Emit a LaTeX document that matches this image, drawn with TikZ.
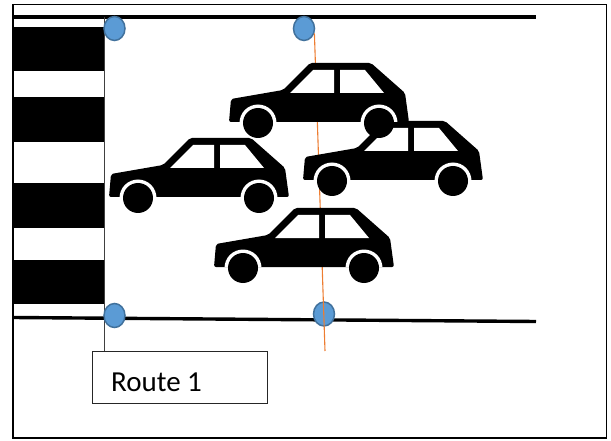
\documentclass[tikz,border=0pt]{standalone}
\usepackage{fontspec}
\setmainfont{Carlito}
\usetikzlibrary{shapes.geometric}

\definecolor{sensorfill}{HTML}{5B9BD5}
\definecolor{sensoredge}{HTML}{41719C}
\definecolor{scanline}{HTML}{ED7D31}
\definecolor{guide}{HTML}{404040}

\tikzset{
  frameline/.style={line width=1.8pt, black},
  roadline/.style={line width=3.4pt, black},
  stripe/.style={fill=black},
  sensor/.style={ellipse, draw=sensoredge, fill=sensorfill, line width=1.5pt,
                 minimum width=21pt, minimum height=24pt, inner sep=0pt},
  guideline/.style={guide, line width=1.1pt},
  scan/.style={scanline, line width=1.1pt},
  routebox/.style={draw=black!85, line width=1pt, fill=white, inner sep=0pt,
                   minimum width=175pt, minimum height=52pt, anchor=north west},
  routetext/.style={inner sep=0pt, anchor=base west,
                    font=\fontsize{29}{34}\selectfont},
  % side view of a hatchback, origin at the top left of its bounding box
  car/.pic={
    \fill[black, rounded corners=2pt]
      (1,59) -- (3,36) -- (55,27) -- (82,0) -- (143,0) -- (177,30) -- (181,59) -- cycle;
    \begin{scope}
      \clip (1,59) -- (3,36) -- (55,27) -- (82,0) -- (143,0) -- (177,30) -- (181,59) -- cycle;
      \fill[white] (30,60) circle[radius=18.5] (151,60) circle[radius=18.5];
    \end{scope}
    \fill[white] (62,30) -- (85,7) -- (106,7) -- (106,30) -- cycle;
    \fill[white] (112,7) -- (137,7) -- (156,30) -- (112,30) -- cycle;
    \fill[black] (30,60) circle[radius=15] (151,60) circle[radius=15];
  }
}

\begin{document}
\begin{tikzpicture}[x=1pt, y=-1pt]
  \useasboundingbox (0,0) rectangle (611,441);

  % outer frame
  \draw[frameline] (13,4.5) rectangle (606.5,438);

  % zebra crossing
  \fill[stripe] (13,27) rectangle (104.5,71);
  \fill[stripe] (13,97) rectangle (104.5,142);
  \fill[stripe] (13,183) rectangle (104.5,228);
  \fill[stripe] (13,260) rectangle (104.5,304);

  % road edges
  \coordinate (topL) at (13,17);
  \coordinate (topR) at (536,17);
  \coordinate (botL) at (13,317.5);
  \coordinate (botR) at (536,321.5);
  \draw[roadline] (topL) -- (topR);
  \draw[roadline] (botL) -- (botR);

  % route label and its leader
  \node[routebox] (route) at (91.5,351) {};
  \node[routetext] (routelabel) at (111,391) {Route 1};
  \coordinate (leadtop) at (104.5,17);
  \draw[guideline] (leadtop) -- (leadtop |- route.north);

  % sensors
  \node[sensor] (s1) at (114.5,28.5) {};
  \node[sensor] (s2) at (304,28.5) {};
  \node[sensor] (s3) at (114.5,315.5) {};
  \node[sensor] (s4) at (324,314) {};

  % scan line across the lane
  \coordinate (scanend) at (325,351);
  \draw[scan] (s2.-25) -- (scanend);

  % traffic
  \pic (car3) at (302,121) {car};
  \pic (car1) at (228,63) {car};
  \pic (car2) at (108,138) {car};
  \pic (car4) at (213,208) {car};
\end{tikzpicture}
\end{document}
